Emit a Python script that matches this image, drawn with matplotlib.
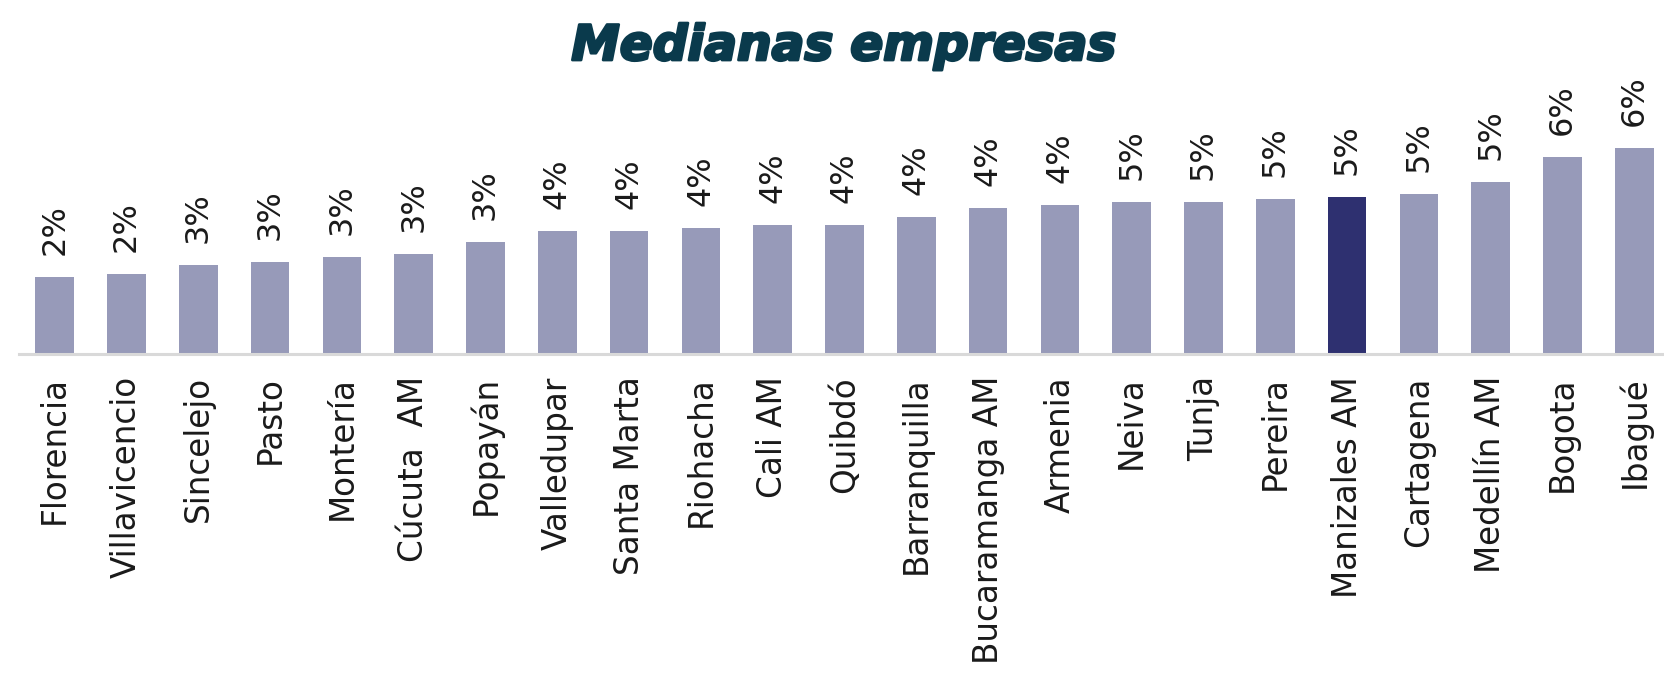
import matplotlib
matplotlib.use("Agg")
import matplotlib.pyplot as plt
import matplotlib.patheffects as pe

categories = ["Florencia", "Villavicencio", "Sincelejo", "Pasto", "Montería", "Cúcuta  AM",
              "Popayán", "Valledupar", "Santa Marta", "Riohacha", "Cali AM", "Quibdó",
              "Barranquilla", "Bucaramanga AM", "Armenia", "Neiva", "Tunja", "Pereira",
              "Manizales AM", "Cartagena", "Medellín AM", "Bogota", "Ibagué"]
values = [2.30, 2.39, 2.66, 2.75, 2.90, 2.99, 3.34, 3.67, 3.67, 3.76, 3.85, 3.85,
          4.09, 4.36, 4.45, 4.54, 4.54, 4.63, 4.69, 4.78, 5.13, 5.88, 6.15]
highlight = "Manizales AM"
title = "Medianas empresas"

W, H = 1665, 688
fig = plt.figure(figsize=(W / 100, H / 100), dpi=100)
spacing = 71.8
left_px = 18.8
base_px = 354
ymax = 7.0
px_per_unit = 33.5
ax = fig.add_axes([left_px / W, (H - base_px) / H,
                   23 * spacing / W, ymax * px_per_unit / H])

colors = ["#2E3070" if c == highlight else "#979AB9" for c in categories]
x = list(range(len(categories)))
ax.bar(x, values, width=0.54, color=colors, zorder=2)
ax.set_xlim(-0.5, len(categories) - 0.5)
ax.set_ylim(0, ymax)

for xi, v in zip(x, values):
    ax.annotate(f"{round(v):.0f}%", (xi, v), xytext=(0, 16), textcoords="offset points",
                rotation=90, ha="center", va="bottom", fontsize=23, color="#1A1A1A",
                family="DejaVu Sans")

ax.set_xticks(x)
ax.set_xticklabels(categories, rotation=90, fontsize=23.5, color="#1A1A1A",
                   family="DejaVu Sans", va="top", ha="center")
ax.tick_params(axis="x", length=0, pad=16)
ax.set_yticks([])
for s in ["left", "right", "top"]:
    ax.spines[s].set_visible(False)
ax.spines["bottom"].set_color("#D9D9D9")
ax.spines["bottom"].set_linewidth(2.2)
ax.spines["bottom"].set_zorder(3)

fig.text(844 / W, 1 - 46 / H, title, ha="center", va="center", fontsize=35,
         fontweight="bold", fontstyle="italic", color="#0A3A4C",
         family="DejaVu Sans",
         path_effects=[pe.withStroke(linewidth=2.0, foreground="#0A3A4C")])

fig.savefig("out.png", dpi=100, facecolor="white")
